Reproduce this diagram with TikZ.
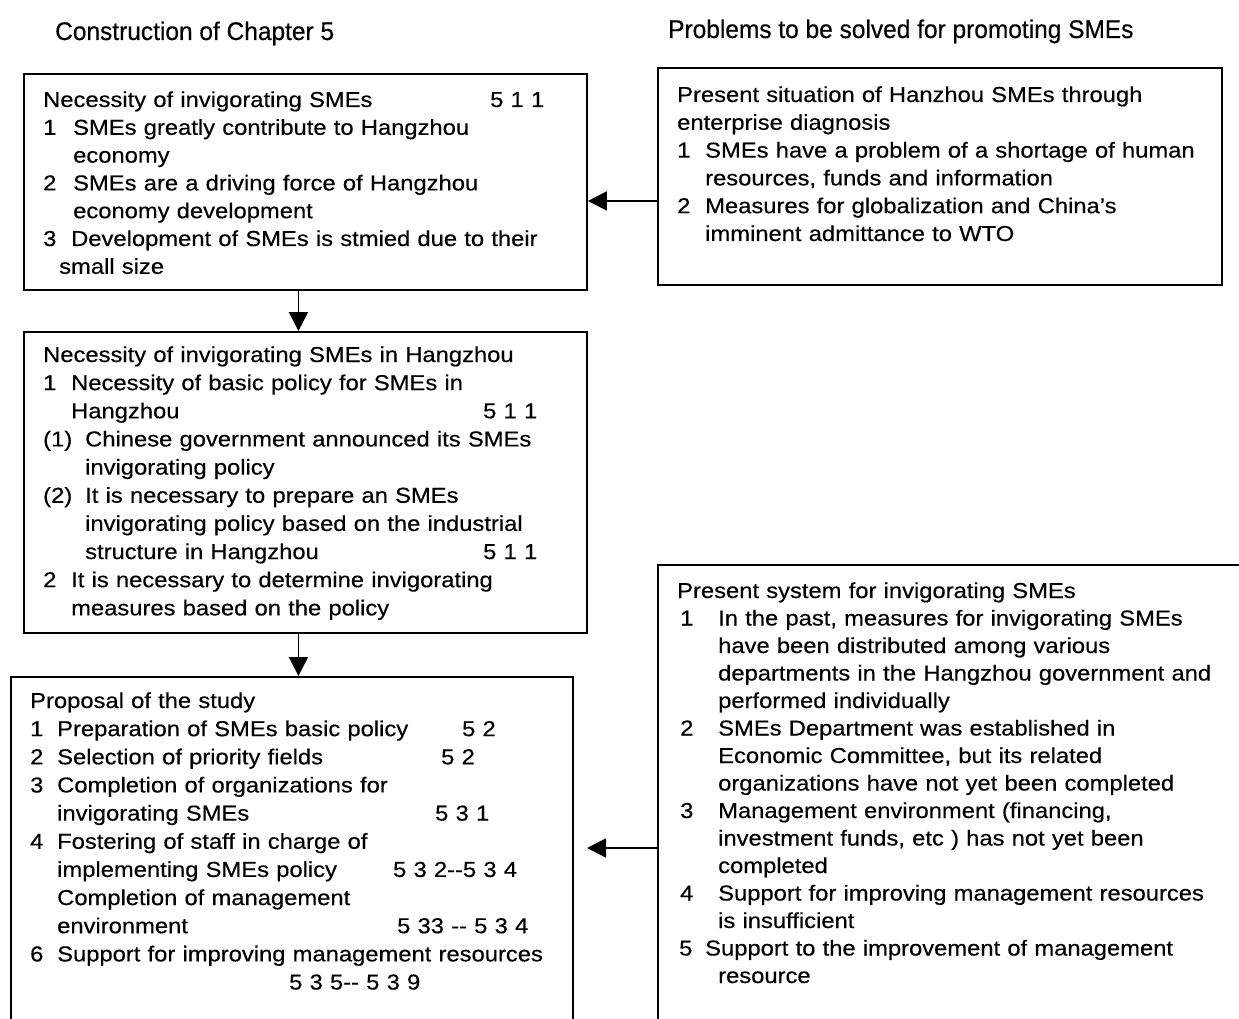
\documentclass[tikz,border=0pt]{standalone}
\usepackage{fontspec}
\setmainfont{Liberation Sans}[FakeStretch=1.10,FakeBold=0.4]
\newfontfamily\headfont{Liberation Sans}[FakeStretch=0.96,FakeBold=0.4]
\usetikzlibrary{arrows.meta}
\newcommand{\itemno}[2]{\makebox[#1][l]{#2}}

\begin{document}
\begin{tikzpicture}[x=1pt,y=-1pt,
    box/.style={draw, line width=1.9pt, inner sep=0pt, anchor=north west},
    txt/.style={anchor=base west, inner sep=0pt, align=left, text width=570pt,
      font=\fontsize{21.6}{27.8}\selectfont},
    wide/.style={font=\fontsize{21.6}{28.15}\selectfont},
    head/.style={anchor=base west, inner sep=0pt,
      font=\headfont\fontsize{25.5}{30}\selectfont},
    arr/.style={-{Triangle[length=19pt,width=19pt]}, line width=1.9pt}]
  \useasboundingbox (0,0) rectangle (1239,1019);
  \clip (0,0) rectangle (1239,1019);

  \node[head] (chapHead) at (55,40) {Construction of Chapter 5};
  \node[head] (probHead) at (668,38) {Problems to be solved for promoting SMEs};

  % boxes
  \node[box, minimum width=563pt, minimum height=216pt] (need) at (23,73) {};
  \node[box, minimum width=564pt, minimum height=217pt] (diag) at (657,67) {};
  \node[box, minimum width=563pt, minimum height=301pt] (needHz) at (23,331) {};
  \node[box, minimum width=562pt, minimum height=420pt] (prop) at (10,676) {};
  \node[box, minimum width=640pt, minimum height=520pt] (sys) at (657,564) {};

  \node[txt] (needTxt) at (43,107) {%
    \makebox[447pt][l]{Necessity of invigorating SMEs}5 1 1\\
    \itemno{30pt}{1}SMEs greatly contribute to Hangzhou\\
    \hspace*{30pt}economy\\
    \itemno{30pt}{2}SMEs are a driving force of Hangzhou\\
    \hspace*{30pt}economy development\\
    \itemno{28pt}{3}Development of SMEs is stmied due to their\\
    \hspace*{16pt}small size};

  \node[txt] (diagTxt) at (677,102) {%
    Present situation of Hanzhou SMEs through\\
    enterprise diagnosis\\
    \itemno{28pt}{1}SMEs have a problem of a shortage of human\\
    \hspace*{28pt}resources, funds and information\\
    \itemno{28pt}{2}Measures for globalization and China's\\
    \hspace*{28pt}imminent admittance to WTO};

  \node[txt, wide] (needHzTxt) at (43,362) {%
    Necessity of invigorating SMEs in Hangzhou\\
    \itemno{28pt}{1}Necessity of basic policy for SMEs in\\
    \makebox[440pt][l]{\hspace*{28pt}Hangzhou}5 1 1\\
    \itemno{42pt}{(1)}Chinese government announced its SMEs\\
    \hspace*{42pt}invigorating policy\\
    \itemno{42pt}{(2)}It is necessary to prepare an SMEs\\
    \hspace*{42pt}invigorating policy based on the industrial\\
    \makebox[440pt][l]{\hspace*{42pt}structure in Hangzhou}5 1 1\\
    \itemno{28pt}{2}It is necessary to determine invigorating\\
    \hspace*{28pt}measures based on the policy};

  \node[txt, wide] (propTxt) at (30,708) {%
    Proposal of the study\\
    \makebox[432pt][l]{\itemno{27pt}{1}Preparation of SMEs basic policy}5 2\\
    \makebox[411pt][l]{\itemno{27pt}{2}Selection of priority fields}5 2\\
    \itemno{27pt}{3}Completion of organizations for\\
    \makebox[405pt][l]{\hspace*{27pt}invigorating SMEs}5 3 1\\
    \itemno{27pt}{4}Fostering of staff in charge of\\
    \makebox[363pt][l]{\hspace*{27pt}implementing SMEs policy}5 3 2-{}-5 3 4\\
    \hspace*{27pt}Completion of management\\
    \makebox[367pt][l]{\hspace*{27pt}environment}5 33 -{}- 5 3 4\\
    \itemno{27pt}{6}Support for improving management resources\\
    \hspace*{259pt}5 3 5-{}- 5 3 9};

  \node[txt, font=\fontsize{21.6}{27.5}\selectfont] (sysTxt) at (677,598) {%
    Present system for invigorating SMEs\\
    \itemno{41pt}{\hspace*{3pt}1}In the past, measures for invigorating SMEs\\
    \hspace*{41pt}have been distributed among various\\
    \hspace*{41pt}departments in the Hangzhou government and\\
    \hspace*{41pt}performed individually\\
    \itemno{41pt}{\hspace*{3pt}2}SMEs Department was established in\\
    \hspace*{41pt}Economic Committee, but its related\\
    \hspace*{41pt}organizations have not yet been completed\\
    \itemno{41pt}{\hspace*{3pt}3}Management environment (financing,\\
    \hspace*{41pt}investment funds, etc ) has not yet been\\
    \hspace*{41pt}completed\\
    \itemno{41pt}{\hspace*{3pt}4}Support for improving management resources\\
    \hspace*{41pt}is insufficient\\
    \itemno{28pt}{\hspace*{2pt}5}Support to the improvement of management\\
    \hspace*{41pt}resource};

  % connectors
  \draw[arr] ([yshift=-24.5pt]diag.west) -- ([yshift=-24.5pt]diag.west -| need.east);
  \draw[arr] ([xshift=-7pt]need.south) -- ([xshift=-7pt]need.south |- needHz.north);
  \draw[arr] ([xshift=-7pt]needHz.south) -- ([xshift=-7pt]needHz.south |- prop.north);
  \coordinate (gap) at (587,848);
  \draw[arr] (sys.west |- gap) -- (gap);
\end{tikzpicture}
\end{document}
